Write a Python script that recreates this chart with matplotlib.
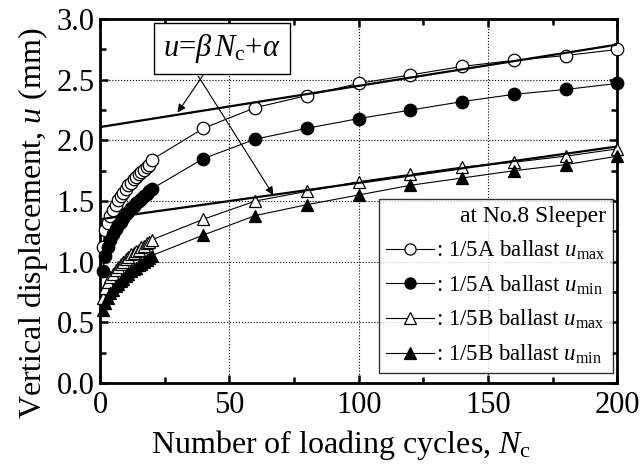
import matplotlib
matplotlib.use("Agg")
import matplotlib.pyplot as plt
from matplotlib.lines import Line2D
from matplotlib.ticker import MultipleLocator

plt.rcParams['font.family'] = 'Liberation Serif'
plt.rcParams['mathtext.fontset'] = 'custom'
plt.rcParams['mathtext.rm'] = 'Liberation Serif'
plt.rcParams['mathtext.it'] = 'Liberation Serif:italic'

# loading cycles
cycles = list(range(1, 21)) + [40, 60, 80, 100, 120, 140, 160, 180, 200]

# 1/5A ballast
a_umax = [1.12, 1.26, 1.32, 1.38, 1.43, 1.47, 1.51, 1.54, 1.57, 1.60,
          1.63, 1.65, 1.68, 1.70, 1.72, 1.74, 1.76, 1.78, 1.80, 1.84,
          2.10, 2.27, 2.37, 2.47, 2.54, 2.61, 2.66, 2.70, 2.75]
a_umin = [0.92, 1.05, 1.12, 1.18, 1.23, 1.27, 1.30, 1.33, 1.36, 1.39,
          1.41, 1.44, 1.46, 1.48, 1.50, 1.52, 1.54, 1.56, 1.58, 1.60,
          1.85, 2.01, 2.10, 2.18, 2.25, 2.32, 2.38, 2.42, 2.47]
# 1/5B ballast
b_umax = [0.70, 0.78, 0.83, 0.87, 0.90, 0.93, 0.96, 0.98, 1.00, 1.02,
          1.04, 1.06, 1.07, 1.09, 1.10, 1.12, 1.13, 1.15, 1.16, 1.18,
          1.35, 1.50, 1.58, 1.66, 1.72, 1.78, 1.82, 1.87, 1.93]
b_umin = [0.60, 0.66, 0.70, 0.74, 0.77, 0.80, 0.82, 0.84, 0.86, 0.88,
          0.90, 0.92, 0.94, 0.95, 0.97, 0.98, 1.00, 1.01, 1.03, 1.05,
          1.22, 1.38, 1.47, 1.55, 1.63, 1.69, 1.75, 1.80, 1.87]

# fitted lines u = beta*Nc + alpha
fit_x = [0, 200]
fit_a = [2.11, 2.79]
fit_b = [1.35, 1.95]

fig = plt.figure(figsize=(6.41, 4.67), dpi=100)
ax = fig.add_axes([0.156, 0.18, 0.807, 0.779])

series = [
    (a_umax, 'o', 'white', ': 1/5A ballast $u_{\\rm max}$'),
    (a_umin, 'o', 'black', ': 1/5A ballast $u_{\\rm min}$'),
    (b_umax, '^', 'white', ': 1/5B ballast $u_{\\rm max}$'),
    (b_umin, '^', 'black', ': 1/5B ballast $u_{\\rm min}$'),
]
handles = []
for vals, mk, fc, lab in series:
    ax.plot(cycles, vals, color='black', lw=0.8, marker=mk, ms=9,
            mfc=fc, mec='black', mew=0.9, clip_on=False, zorder=3)
    handles.append(Line2D([], [], color='black', lw=0.8, marker=mk, ms=8,
                          mfc=fc, mec='black', mew=0.9, label=lab))

ax.plot(fit_x, fit_a, color='black', lw=1.6, zorder=4)
ax.plot(fit_x, fit_b, color='black', lw=1.6, zorder=4)

ax.set_xlim(0, 200)
ax.set_ylim(0, 3.0)
ax.xaxis.set_major_locator(MultipleLocator(50))
ax.xaxis.set_minor_locator(MultipleLocator(25))
ax.yaxis.set_major_locator(MultipleLocator(0.5))
ax.yaxis.set_minor_locator(MultipleLocator(0.25))
ax.set_yticks([0, 0.5, 1.0, 1.5, 2.0, 2.5, 3.0])
ax.set_yticklabels(['0.0', '0.5', '1.0', '1.5', '2.0', '2.5', '3.0'])
ax.tick_params(which='both', direction='in', top=True, right=True,
               labelsize=22, width=1.8)
ax.tick_params(which='major', length=6)
ax.tick_params(which='minor', length=4)
ax.tick_params(axis='x', pad=6)
ax.tick_params(axis='y', pad=4)
for s in ax.spines.values():
    s.set_linewidth(2.0)
ax.grid(True, which='major', linestyle=':', color='black', lw=0.8)

ax.set_xlabel('Number of loading cycles, $N_{\\rm c}$', fontsize=23)
ax.set_ylabel('Vertical displacement, $u$ (mm)', fontsize=23)
ax.xaxis.set_label_coords(0.465, -0.125)
ax.yaxis.set_label_coords(-0.097, 0.44)

leg = ax.legend(handles=handles, loc='lower right',
                bbox_to_anchor=(0.992, 0.027), borderaxespad=0,
                fontsize=16.5, title='at No.8 Sleeper', title_fontsize=17,
                frameon=True, fancybox=False, edgecolor='black',
                handlelength=2.1, handletextpad=0.1, borderpad=0.3,
                labelspacing=0.5)
leg.get_frame().set_linewidth(1.0)
leg._legend_box.align = 'right'

# annotation box with arrows
ax.annotate('$u$=$\\beta\\,N_{\\rm c}$+$\\alpha$', xy=(30, 2.23), xytext=(47, 2.76),
            fontsize=22, ha='center', va='center',
            bbox=dict(boxstyle='square,pad=0.3', fc='white', ec='black', lw=1.0),
            arrowprops=dict(arrowstyle='-|>', color='black', lw=0.8,
                            shrinkA=0, shrinkB=0, mutation_scale=12),
            zorder=6)
ax.annotate('', xy=(67, 1.55), xytext=(38, 2.53),
            arrowprops=dict(arrowstyle='-|>', color='black', lw=0.8,
                            shrinkA=0, shrinkB=0, mutation_scale=12),
            zorder=6)

fig.savefig('out.png', dpi=100)
